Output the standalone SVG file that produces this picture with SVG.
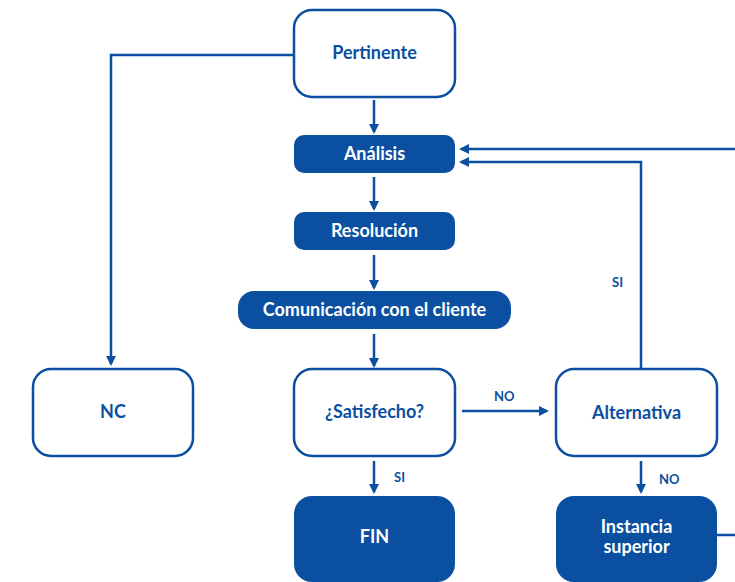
<svg xmlns="http://www.w3.org/2000/svg" width="735" height="582" viewBox="0 0 735 582">
  <style>
    .box { fill: #ffffff; stroke: #0b4fa0; stroke-width: 2.5; }
    .solid { fill: #0b4fa0; }
    .t { font-family: Lato, "Liberation Sans", sans-serif; font-weight: bold; font-size: 18px; text-anchor: middle; }
    .dark { fill: #0b4fa0; }
    .light { fill: #ffffff; }
    .lbl { font-family: Lato, "Liberation Sans", sans-serif; font-weight: bold; font-size: 13px; fill: #0b4fa0; }
    .wire { fill: none; stroke: #0b4fa0; stroke-width: 2.5; }
  </style>
  <defs>
    <marker id="arrow" markerWidth="10" markerHeight="10" refX="8" refY="5" orient="auto" markerUnits="userSpaceOnUse">
      <path d="M0,0 L10,5 L0,10 Z" fill="#0b4fa0"/>
    </marker>
  </defs>

  <rect width="735" height="582" fill="#ffffff"/>

  <g id="connectors">
    <line class="wire" x1="374" y1="100" x2="374" y2="132" marker-end="url(#arrow)"/>
    <line class="wire" x1="374" y1="177" x2="374" y2="209" marker-end="url(#arrow)"/>
    <line class="wire" x1="374" y1="255" x2="374" y2="288" marker-end="url(#arrow)"/>
    <line class="wire" x1="374" y1="334" x2="374" y2="366" marker-end="url(#arrow)"/>
    <line class="wire" x1="374" y1="461" x2="374" y2="492" marker-end="url(#arrow)"/>
    <line class="wire" x1="462" y1="411" x2="547" y2="411" marker-end="url(#arrow)"/>
    <line class="wire" x1="641" y1="461" x2="641" y2="492" marker-end="url(#arrow)"/>
    <polyline class="wire" points="294,55 111,55 111,364" marker-end="url(#arrow)"/>
    <polyline class="wire" points="735,149 461,149" marker-end="url(#arrow)"/>
    <polyline class="wire" points="641,369 641,162 461,162" marker-end="url(#arrow)"/>
    <line class="wire" x1="717" y1="535" x2="735" y2="535"/>
    <text class="lbl" x="394" y="482">SI</text>
    <text class="lbl" x="494" y="401">NO</text>
    <text class="lbl" x="659" y="484">NO</text>
    <text class="lbl" x="612" y="287">SI</text>
  </g>

  <g id="pertinente">
    <rect class="box" x="294" y="10" width="161" height="87" rx="18"/>
    <text class="t dark" x="374.5" y="59">Pertinente</text>
  </g>
  <g id="analisis">
    <rect class="solid" x="294" y="135" width="161" height="38" rx="10"/>
    <text class="t light" x="374.5" y="160">Análisis</text>
  </g>
  <g id="resolucion">
    <rect class="solid" x="294" y="212" width="161" height="38" rx="10"/>
    <text class="t light" x="374.5" y="237">Resolución</text>
  </g>
  <g id="comunicacion">
    <rect class="solid" x="238" y="291" width="273" height="38" rx="16"/>
    <text class="t light" x="374.5" y="316">Comunicación con el cliente</text>
  </g>
  <g id="satisfecho">
    <rect class="box" x="294" y="369" width="161" height="87" rx="18"/>
    <text class="t dark" x="374.5" y="418">¿Satisfecho?</text>
  </g>
  <g id="fin">
    <rect class="solid" x="294" y="496" width="161" height="86" rx="18"/>
    <text class="t light" x="374.5" y="543">FIN</text>
  </g>
  <g id="nc">
    <rect class="box" x="33" y="369" width="160" height="87" rx="18"/>
    <text class="t dark" x="113" y="418">NC</text>
  </g>
  <g id="alternativa">
    <rect class="box" x="556" y="369" width="161" height="87" rx="18"/>
    <text class="t dark" x="636.5" y="419">Alternativa</text>
  </g>
  <g id="instancia">
    <rect class="solid" x="556" y="496" width="161" height="86" rx="18"/>
    <text class="t light" x="636.5" y="533">Instancia</text>
    <text class="t light" x="636.5" y="553">superior</text>
  </g>
</svg>
